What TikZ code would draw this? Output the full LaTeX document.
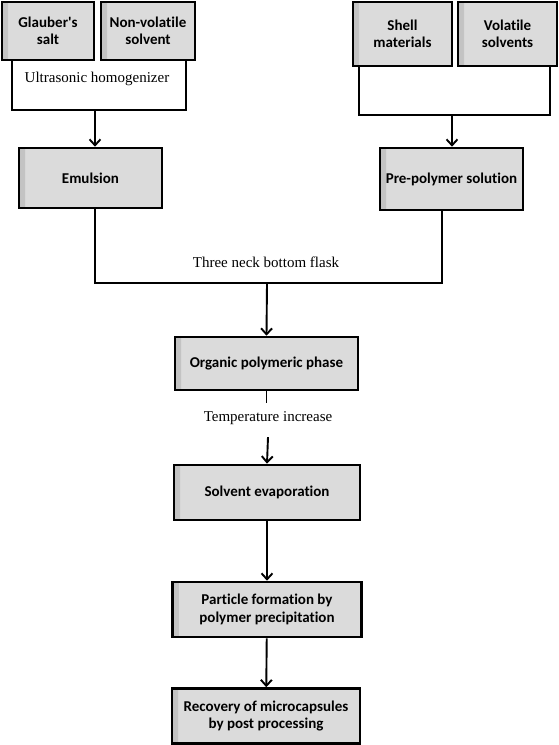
\documentclass[tikz,border=0pt]{standalone}
\usepackage{fontspec}
\setmainfont{Liberation Serif}
\newfontfamily\boxfont[Ligatures=NoCommon]{Carlito}
\usetikzlibrary{arrows.meta}

\tikzset{
  stepbox/.style={draw=black, line width=2.6pt, fill=gray!28, align=center,
    inner sep=2pt, font=\boxfont\bfseries\fontsize{15}{17.5}\selectfont,
    path picture={\shade[left color=gray!48, right color=gray!28]
      ([xshift=-2pt]path picture bounding box.south west) rectangle
      ([xshift=6pt]path picture bounding box.north west);}},
  link/.style={black, line width=1.9pt},
  arr/.style={link, -{Straight Barb[length=6pt, width=11pt, line width=1.9pt]}},
  note/.style={font=\fontsize{15}{17}\selectfont}
}

\begin{document}
\begin{tikzpicture}[x=1pt, y=-1pt]
		\useasboundingbox (0,0) rectangle (559,745);

		% raw materials
		\node[stepbox, minimum width=92pt, minimum height=58pt] (glauber) at (48,31) {Glauber's\\salt};
		\node[stepbox, minimum width=94pt, minimum height=58pt] (nonvol) at (148,31) {Non-volatile\\solvent};
		\node[stepbox, minimum width=99pt, minimum height=64pt] (shell) at (402.5,34) {Shell\\materials};
		\node[stepbox, minimum width=99pt, minimum height=64pt] (volatile) at (507.5,34) {Volatile\\solvents};

		% process steps
		\node[stepbox, minimum width=143pt, minimum height=60pt] (emulsion) at (90.5,178) {Emulsion};
		\node[stepbox, minimum width=143pt, minimum height=62pt] (prepoly) at (451.5,179) {Pre-polymer solution};
		\node[stepbox, minimum width=183pt, minimum height=53pt] (organic) at (266.5,363.5) {Organic polymeric phase};
		\node[stepbox, minimum width=186pt, minimum height=55pt] (evap) at (267,492.5) {Solvent evaporation};
		\node[stepbox, minimum width=189pt, minimum height=55pt] (particle) at (267,609.5) {Particle formation by\\polymer precipitation};
		\node[stepbox, minimum width=188pt, minimum height=55pt] (recovery) at (266,716) {Recovery of microcapsules\\by post processing};

		% bracket corners
		\coordinate (ul) at (12,110);
		\coordinate (ur) at (186,110);
		\coordinate (um) at (95,110);
		\coordinate (sl) at (359,115);
		\coordinate (sr) at (550,115);
		\coordinate (sm) at (452,115);
		\coordinate (fm) at (267,283);

		\node[note] (ultra) at (97,79) {Ultrasonic homogenizer};
		\node[note] (flask) at (266,262) {Three neck bottom flask};
		\node[note] (temp) at (268,418) {Temperature increase};

		\draw[link] (glauber.south -| ul) -- (ul) -- (ur) -- (nonvol.south -| ur);
		\draw[arr] (um) -- (um |- emulsion.north);
		\draw[link] (shell.south -| sl) -- (sl) -- (sr) -- (volatile.south -| sr);
		\draw[arr] (sm) -- (sm |- prepoly.north);
		\draw[link] (emulsion.south -| 95,0) -- (fm -| 95,0) -- (fm -| 442,0) -- (prepoly.south -| 442,0);
		\draw[arr] (fm) -- (organic.north);

		\draw[link] (organic.south) -- ++(0,12);
		\draw[arr] (temp.south) ++(0,9) -- (evap.north);
		\draw[arr] (evap) -- (particle);
		\draw[arr] (particle) -- (recovery);
\end{tikzpicture}
\end{document}
